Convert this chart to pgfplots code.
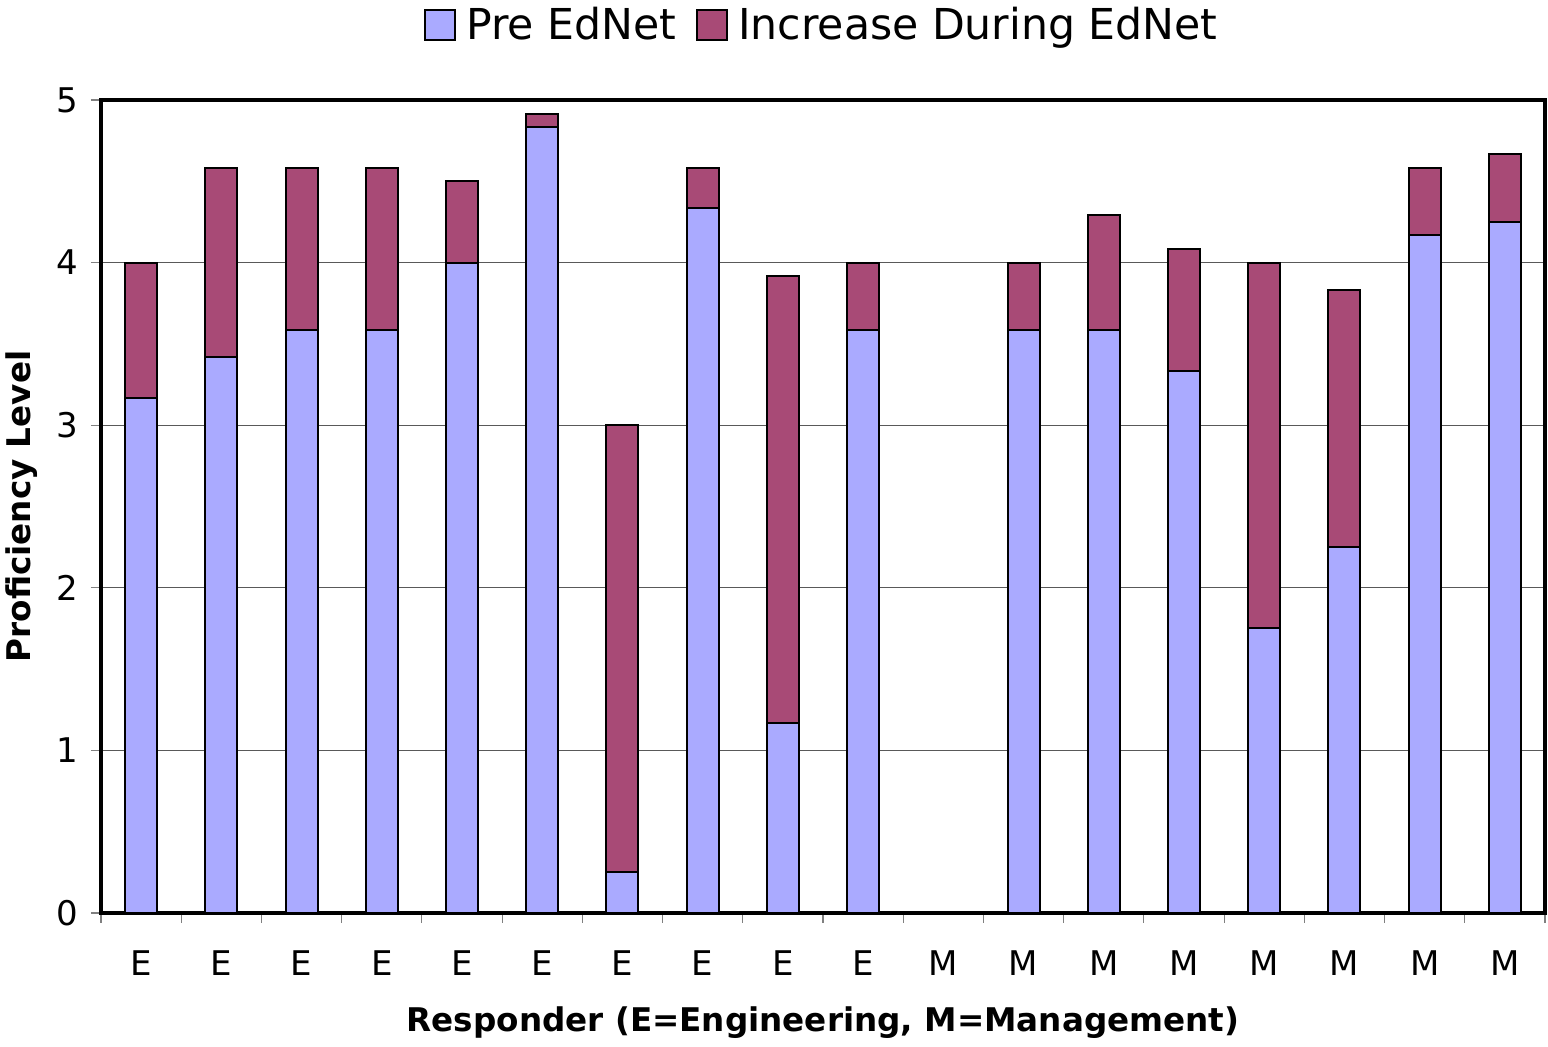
\documentclass[border=0pt]{standalone}
\usepackage{pgfplots}
\pgfplotsset{compat=1.18}
\usepackage{fontspec}
\setmainfont{DejaVu Sans}
\definecolor{preblue}{HTML}{AAAAFF}
\definecolor{incred}{HTML}{A84A76}

\begin{document}
\begin{tikzpicture}
\begin{axis}[
    name=ax,
    scale only axis,
    width=722pt, height=406.5pt,
    ybar stacked, bar width=16pt,
    xmin=-0.5, xmax=17.5, ymin=0, ymax=5,
    xtick={0,...,17},
    xticklabels={E,E,E,E,E,E,E,E,E,E,M,M,M,M,M,M,M,M},
    minor xtick={-0.5,0.5,...,17.5},
    ytick={0,1,2,3,4,5},
    tick pos=left, tick align=outside,
    major tick length=5pt, minor tick length=5pt,
    major x tick style={draw=none},
    every tick/.style={gray, line width=0.6pt},
    ymajorgrids, grid style={black!65, line width=0.5pt},
    axis line style={line width=2pt},
    /pgf/number format/assume math mode=true,
    tick label style={font=\fontsize{17}{20}\selectfont},
    xticklabel style={yshift=-10.5pt},
    yticklabel style={xshift=-3pt},
    xlabel={\bfseries Responder (E=Engineering, M=Management)},
    ylabel={\bfseries Proficiency Level},
    label style={font=\fontsize{16.3}{19}\selectfont},
    xlabel style={at={(axis description cs:0.5,-0.1353)}, anchor=center},
    ylabel style={at={(axis description cs:-0.0547,0.5)}, anchor=center},
    legend style={at={(axis description cs:0.5,1.0923)}, anchor=center,
        draw=none, legend columns=-1, font=\fontsize{21.3}{24}\selectfont,
        /tikz/every odd column/.append style={column sep=3pt},
        /tikz/every even column/.append style={column sep=8pt}},
    legend image code/.code={\draw[#1, draw=black, line width=1pt] (0pt,-7.5pt) rectangle (15pt,7.5pt);},
]
\addplot[fill=preblue, draw=black, line width=1pt] coordinates {
    (0,3.167) (1,3.417) (2,3.583) (3,3.583) (4,4.0) (5,4.833)
    (6,0.25) (7,4.333) (8,1.167) (9,3.583) (10,0) (11,3.583)
    (12,3.583) (13,3.333) (14,1.75) (15,2.25) (16,4.167) (17,4.25)
};
\addplot[fill=incred, draw=black, line width=1pt] coordinates {
    (0,0.833) (1,1.167) (2,1.0) (3,1.0) (4,0.5) (5,0.083)
    (6,2.75) (7,0.25) (8,2.75) (9,0.417) (10,0) (11,0.417)
    (12,0.708) (13,0.75) (14,2.25) (15,1.583) (16,0.417) (17,0.417)
};
\legend{Pre EdNet, Increase During EdNet}
\end{axis}
\pgfresetboundingbox
\path[use as bounding box] ([shift={(-50.5pt,-67pt)}]ax.south west) rectangle ([shift={(1.5pt,50pt)}]ax.north east);
\end{tikzpicture}
\end{document}
